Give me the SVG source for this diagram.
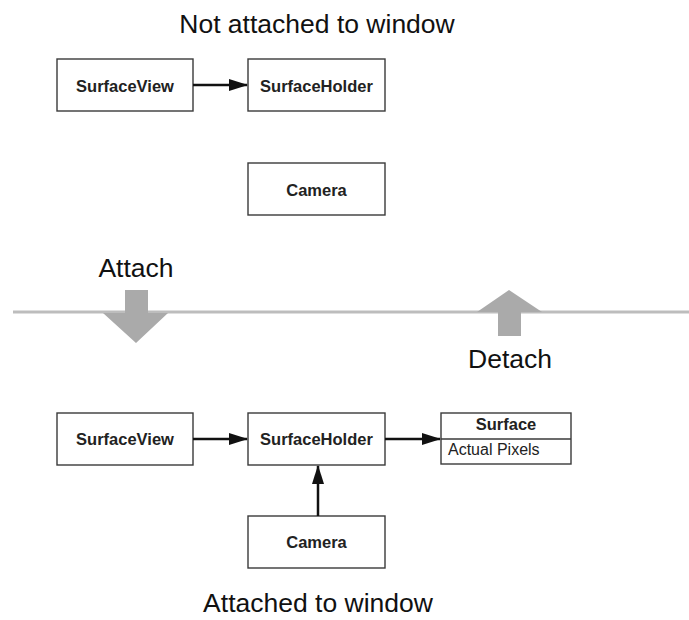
<svg xmlns="http://www.w3.org/2000/svg" width="689" height="620" viewBox="0 0 689 620">
<defs>
<style>
.box{fill:#fff;stroke:#3a3a3a;stroke-width:1.4}
.lbl{font-family:"Liberation Sans",Arial,sans-serif;font-weight:bold;font-size:16.5px;fill:#222;text-anchor:middle}
.title{font-family:"Liberation Sans",Arial,sans-serif;font-size:26.5px;fill:#111;text-anchor:middle}
.small{font-family:"Liberation Sans",Arial,sans-serif;font-size:16px;fill:#222}
.conn{stroke:#111;stroke-width:2.5;fill:none}
.big{fill:#aaaaaa}
</style>
<marker id="ah" viewBox="0 0 19 12" refX="18" refY="6" markerWidth="19" markerHeight="12" markerUnits="userSpaceOnUse" orient="auto">
<path d="M0,0 L19,6 L0,12 z" fill="#111"/>
</marker>
</defs>
<rect width="689" height="620" fill="#fff"/>

<text class="title" x="317" y="33">Not attached to window</text>

<g id="top-surfaceview"><rect class="box" x="57" y="59" width="136" height="52"/><text class="lbl" x="125" y="91.5">SurfaceView</text></g>
<g id="top-surfaceholder"><rect class="box" x="248" y="59" width="137" height="52"/><text class="lbl" x="316.5" y="91.5">SurfaceHolder</text></g>
<g id="top-camera"><rect class="box" x="248" y="163" width="137" height="52"/><text class="lbl" x="316.5" y="195.5">Camera</text></g>

<g id="divider">
<line x1="13" y1="312" x2="689" y2="312" stroke="#bdbdbd" stroke-width="3"/>
<polygon class="big" points="125,290 148,290 148,313 168,313 136,343 103,313 125,313"/>
<polygon class="big" points="509,290 542,312 521,312 521,336 498,336 498,312 477,312"/>
<text class="title" x="136" y="277">Attach</text>
<text class="title" x="510" y="368">Detach</text>
</g>

<g id="bot-surfaceview"><rect class="box" x="57" y="413" width="136" height="52"/><text class="lbl" x="125" y="445">SurfaceView</text></g>
<g id="bot-surfaceholder"><rect class="box" x="248" y="413" width="137" height="52"/><text class="lbl" x="316.5" y="445">SurfaceHolder</text></g>
<g id="bot-surface"><rect class="box" x="441" y="413" width="130" height="51"/><line x1="441" y1="439" x2="571" y2="439" stroke="#3a3a3a" stroke-width="1.4"/><text class="lbl" x="506" y="430">Surface</text><text class="small" x="448" y="455">Actual Pixels</text></g>
<g id="bot-camera"><rect class="box" x="248" y="516" width="137" height="52"/><text class="lbl" x="316.5" y="548">Camera</text></g>

<text class="title" x="318" y="612">Attached to window</text>

<g id="connectors">
<line class="conn" x1="193" y1="85" x2="247" y2="85" marker-end="url(#ah)"/>
<line class="conn" x1="193" y1="439" x2="247" y2="439" marker-end="url(#ah)"/>
<line class="conn" x1="385" y1="439" x2="440" y2="439" marker-end="url(#ah)"/>
<line class="conn" x1="318" y1="516" x2="318" y2="466" marker-end="url(#ah)"/>
</g>
</svg>
